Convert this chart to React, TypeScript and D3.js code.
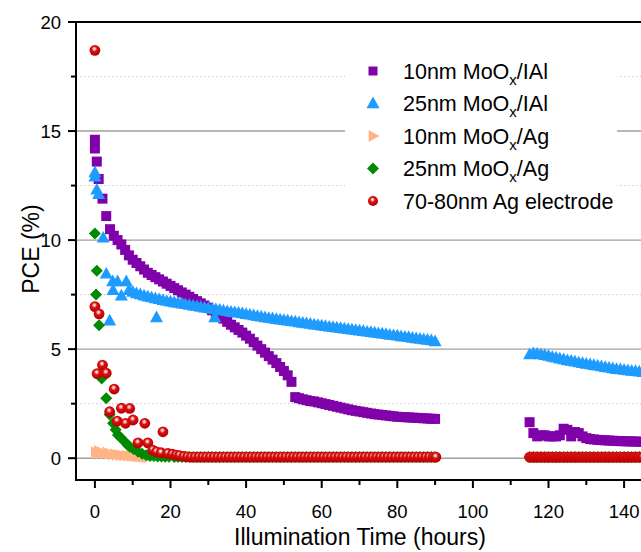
import React from 'react';
import * as d3 from 'd3';

// ---------- DATA (time in hours, PCE in %) ----------
const purpleSeries: [number, number][] = [
  [0, 14.6], [0, 14.2], [0.5, 13.6], [1, 12.8], [2, 11.9], [3, 11.1], [4, 10.5], [5, 10.2], [6, 10.0], [7, 9.8],
  [8, 9.55], [9, 9.3], [10, 9.1], [11, 8.95], [12, 8.8], [13, 8.65], [14, 8.5], [15, 8.4], [16, 8.3], [17, 8.2],
  [18, 8.1], [19, 8.0], [20, 7.9], [21, 7.8], [22, 7.7], [23, 7.6], [24, 7.5], [25, 7.4], [26, 7.3], [27, 7.2],
  [28, 7.1], [29, 7.0], [30, 6.9], [31, 6.78], [32, 6.65], [33, 6.52], [34, 6.4], [35, 6.25], [36, 6.12], [37, 6.0],
  [38, 5.88], [39, 5.76], [40, 5.62], [41, 5.48], [42, 5.32], [43, 5.16], [44, 5.0], [45, 4.84], [46, 4.68], [47, 4.52],
  [48, 4.36], [49, 4.18], [50, 4.0], [51, 3.8], [52, 3.5],
  [53, 2.8], [54, 2.75], [55, 2.7], [56, 2.66], [57, 2.62], [58, 2.6], [59, 2.56], [60, 2.52], [61, 2.48], [62, 2.44],
  [63, 2.4], [64, 2.36], [65, 2.32], [66, 2.28], [67, 2.24], [68, 2.2], [69, 2.17], [70, 2.14], [71, 2.11], [72, 2.08],
  [73, 2.05], [74, 2.02], [75, 2.0], [76, 1.98], [77, 1.96], [78, 1.94], [79, 1.92], [80, 1.9], [81, 1.89], [82, 1.88],
  [83, 1.87], [84, 1.86], [85, 1.85], [86, 1.84], [87, 1.83], [88, 1.82], [89, 1.81], [90, 1.8],
  [115, 1.65], [116, 1.15], [117, 1.0], [118, 1.05], [119, 1.05], [120, 1.0], [121, 1.0], [122, 1.0], [123, 1.05], [124, 1.35],
  [125, 1.3], [126, 1.0], [127, 1.2], [128, 1.15], [129, 1.0], [130, 0.92], [131, 0.88], [132, 0.86], [133, 0.84], [134, 0.83],
  [135, 0.82], [136, 0.81], [137, 0.8], [138, 0.79], [139, 0.78], [140, 0.78], [141, 0.77], [142, 0.77], [143, 0.76], [144, 0.76],
  [145, 0.75],
];

const blueSeries: [number, number][] = [
  [0, 13.1], [0, 12.9], [0.5, 12.3], [1, 12.1], [2.2, 10.1], [3, 8.45], [3.9, 6.3], [4.7, 8.1], [4.8, 7.7], [6, 8.1],
  [7, 7.45], [8.3, 8.1], [16.3, 6.45], [31.7, 6.45],
  [9, 7.7], [10, 7.62], [11, 7.55], [12, 7.5], [13, 7.45], [14, 7.4], [15, 7.36], [16, 7.32], [17, 7.28], [18, 7.24],
  [19, 7.2], [20, 7.17], [21, 7.14], [22, 7.11], [23, 7.08], [24, 7.05], [25, 7.02], [26, 6.99], [27, 6.96], [28, 6.93],
  [29, 6.9], [30, 6.87], [31, 6.84], [32, 6.82], [33, 6.79], [34, 6.76], [35, 6.73], [36, 6.7], [37, 6.68], [38, 6.66],
  [39, 6.63], [40, 6.6], [41, 6.57], [42, 6.54], [43, 6.51], [44, 6.48], [45, 6.45], [46, 6.42], [47, 6.4], [48, 6.37],
  [49, 6.35], [50, 6.32], [51, 6.3], [52, 6.27], [53, 6.25], [54, 6.22], [55, 6.2], [56, 6.17], [57, 6.15], [58, 6.12],
  [59, 6.1], [60, 6.07], [61, 6.05], [62, 6.02], [63, 6.0], [64, 5.98], [65, 5.96], [66, 5.93], [67, 5.91], [68, 5.89],
  [69, 5.86], [70, 5.84], [71, 5.82], [72, 5.79], [73, 5.77], [74, 5.75], [75, 5.72], [76, 5.7], [77, 5.68], [78, 5.65],
  [79, 5.63], [80, 5.61], [81, 5.58], [82, 5.56], [83, 5.54], [84, 5.51], [85, 5.49], [86, 5.46], [87, 5.44], [88, 5.42],
  [89, 5.39], [90, 5.35],
  [115, 4.75], [116, 4.8], [117, 4.78], [118, 4.75], [119, 4.72], [120, 4.68], [121, 4.64], [122, 4.6], [123, 4.56], [124, 4.52],
  [125, 4.48], [126, 4.45], [127, 4.42], [128, 4.38], [129, 4.35], [130, 4.32], [131, 4.29], [132, 4.26], [133, 4.23], [134, 4.2],
  [135, 4.17], [136, 4.14], [137, 4.11], [138, 4.08], [139, 4.06], [140, 4.04], [141, 4.02], [142, 4.0], [143, 3.98], [144, 3.96],
  [145, 3.94],
];

const orangeSeries: [number, number][] = [
  [0, 0.3], [0.4, 0.22], [0.8, 0.35], [1.2, 0.18], [1.6, 0.3], [2, 0.25], [2.5, 0.2], [3, 0.28], [3.5, 0.18], [4, 0.22],
  [4.5, 0.15], [5, 0.2], [5.5, 0.14], [6, 0.18], [6.5, 0.12], [7, 0.15], [7.5, 0.1], [8, 0.13], [8.5, 0.1], [9, 0.12],
  [9.5, 0.08], [10, 0.1], [10.5, 0.07], [11, 0.08], [11.5, 0.05], [12, 0.06], [12.5, 0.04], [13, 0.05], [13.5, 0.03], [14, 0.03],
];

const greenSeries: [number, number][] = [
  [0, 10.3], [0.5, 8.6], [0.3, 7.5], [1.1, 6.1], [1.8, 3.65], [3, 2.75], [3.9, 2.0], [4.8, 1.6], [5.5, 1.3], [6.1, 1.06],
  [6.8, 0.95], [7.9, 0.75], [8.6, 0.62], [9.2, 0.52], [10.2, 0.42], [11.4, 0.29], [12.5, 0.2], [13.6, 0.14], [14.6, 0.1], [15.6, 0.1],
  [16.6, 0.08], [17.6, 0.08], [18.6, 0.07], [19.6, 0.07], [21, 0.06], [22, 0.06], [23, 0.06], [24, 0.06], [25, 0.06], [26, 0.06],
  [27, 0.06], [28, 0.06], [29, 0.06], [30, 0.06], [31, 0.06], [32, 0.06], [33, 0.06], [34, 0.06], [35, 0.06], [36, 0.06],
  [37, 0.06], [38, 0.06], [39, 0.06], [40, 0.06], [41, 0.06], [42, 0.06], [43, 0.06], [44, 0.06], [45, 0.06], [46, 0.06],
  [47, 0.06], [48, 0.06], [49, 0.06], [50, 0.06], [51, 0.06], [52, 0.06], [53, 0.06], [54, 0.06], [55, 0.06], [56, 0.06],
  [57, 0.06], [58, 0.06], [59, 0.06], [60, 0.06], [61, 0.06], [62, 0.06], [63, 0.06], [64, 0.06], [65, 0.06], [66, 0.06],
  [67, 0.06], [68, 0.06], [69, 0.06], [70, 0.06], [71, 0.06], [72, 0.06], [73, 0.06], [74, 0.06], [75, 0.06], [76, 0.06],
  [77, 0.06], [78, 0.06], [79, 0.06], [80, 0.06], [81, 0.06], [82, 0.06], [83, 0.06], [84, 0.06], [85, 0.06], [86, 0.06],
  [87, 0.06], [88, 0.06], [89, 0.06], [90, 0.06],
  [115, 0.06], [116, 0.06], [117, 0.06], [118, 0.06], [119, 0.06], [120, 0.06], [121, 0.06], [122, 0.06], [123, 0.06], [124, 0.06],
  [125, 0.06], [126, 0.06], [127, 0.06], [128, 0.06], [129, 0.06], [130, 0.06], [131, 0.06], [132, 0.06], [133, 0.06], [134, 0.06],
  [135, 0.06], [136, 0.06], [137, 0.06], [138, 0.06], [139, 0.06], [140, 0.06], [141, 0.06], [142, 0.06], [143, 0.06], [144, 0.06],
  [145, 0.06],
];

const redSeries: [number, number][] = [
  [0, 18.7], [0, 6.95], [1.1, 6.62], [0.6, 3.88], [2, 4.27], [3, 3.9], [5.1, 3.17], [3.9, 2.13], [7, 2.29], [9.2, 2.28],
  [5.9, 1.7], [8.1, 1.6], [10.1, 1.75], [13.2, 1.6], [18, 1.21], [11.4, 0.7], [14, 0.7], [15.3, 0.37], [16.3, 0.29], [17.5, 0.25],
  [19.3, 0.22], [20.5, 0.18], [21.5, 0.14], [22.4, 0.12], [23.5, 0.08], [24.5, 0.06], [25.5, 0.05], [26.5, 0.05], [27.5, 0.05], [28.5, 0.05],
  [29.5, 0.05], [30.5, 0.05], [31.5, 0.05], [32.5, 0.05], [33.5, 0.05], [34.5, 0.05], [35.5, 0.05], [36.5, 0.05], [37.5, 0.05], [38.5, 0.05],
  [39.5, 0.05], [40.5, 0.05], [41.5, 0.05], [42.5, 0.05], [43.5, 0.05], [44.5, 0.05], [45.5, 0.05], [46.5, 0.05], [47.5, 0.05], [48.5, 0.05],
  [49.5, 0.05], [50.5, 0.05], [51.5, 0.05], [52.5, 0.05], [53.5, 0.05], [54.5, 0.05], [55.5, 0.05], [56.5, 0.05], [57.5, 0.05], [58.5, 0.05],
  [59.5, 0.05], [60.5, 0.05], [61.5, 0.05], [62.5, 0.05], [63.5, 0.05], [64.5, 0.05], [65.5, 0.05], [66.5, 0.05], [67.5, 0.05], [68.5, 0.05],
  [69.5, 0.05], [70.5, 0.05], [71.5, 0.05], [72.5, 0.05], [73.5, 0.05], [74.5, 0.05], [75.5, 0.05], [76.5, 0.05], [77.5, 0.05], [78.5, 0.05],
  [79.5, 0.05], [80.5, 0.05], [81.5, 0.05], [82.5, 0.05], [83.5, 0.05], [84.5, 0.05], [85.5, 0.05], [86.5, 0.05], [87.5, 0.05], [88.5, 0.05],
  [89.5, 0.05], [90.2, 0.05],
  [115, 0.05], [115.5, 0.05], [116, 0.05], [116.5, 0.05], [117, 0.05], [117.5, 0.05], [118, 0.05], [118.5, 0.05], [119, 0.05], [119.5, 0.05],
  [120, 0.05], [120.5, 0.05], [121, 0.05], [121.5, 0.05], [122, 0.05], [122.5, 0.05], [123, 0.05], [123.5, 0.05], [124, 0.05], [124.5, 0.05],
  [125, 0.05], [125.5, 0.05], [126, 0.05], [126.5, 0.05], [127, 0.05], [127.5, 0.05], [128, 0.05], [128.5, 0.05], [129, 0.05], [129.5, 0.05],
  [130, 0.05], [130.5, 0.05], [131, 0.05], [131.5, 0.05], [132, 0.05], [132.5, 0.05], [133, 0.05], [133.5, 0.05], [134, 0.05], [134.5, 0.05],
  [135, 0.05], [135.5, 0.05], [136, 0.05], [136.5, 0.05], [137, 0.05], [137.5, 0.05], [138, 0.05], [138.5, 0.05], [139, 0.05], [139.5, 0.05],
  [140, 0.05], [140.5, 0.05], [141, 0.05], [141.5, 0.05], [142, 0.05], [142.5, 0.05], [143, 0.05], [143.5, 0.05], [144, 0.05], [144.5, 0.05],
  [145, 0.05],
];

const xMajorTicks = [0, 20, 40, 60, 80, 100, 120, 140];
const xMinorTicks = [10, 30, 50, 70, 90, 110, 130];
const yMajorTicks = [0, 5, 10, 15, 20];
const yMinorTicks = [2.5, 7.5, 12.5, 17.5];

const legendLabels = [
  { pre: '10nm MoO', sub: 'x', post: '/IAl' },
  { pre: '25nm MoO', sub: 'x', post: '/IAl' },
  { pre: '10nm MoO', sub: 'x', post: '/Ag' },
  { pre: '25nm MoO', sub: 'x', post: '/Ag' },
  { pre: '70-80nm Ag electrode', sub: '', post: '' },
];

// ---------- LAYOUT ----------
const W = 641;
const H = 552;
const left = 76;
const top = 22;
const bottom = 480;
const right = 643;
const FONT = '"Liberation Sans", Arial, Helvetica, sans-serif';

const x = d3.scaleLinear().domain([-5, 145]).range([left, right]);
const y = d3.scaleLinear().domain([-1, 20]).range([bottom, top]);

const COLORS = {
  purple: '#8000AA',
  blue: '#1E9BFF',
  orange: '#FFB485',
  green: '#008A00',
  red: '#CC0000',
};

const squarePath = (s: number) => `M${-s / 2},${-s / 2}h${s}v${s}h${-s}Z`;
const triUpPath = (w: number) => {
  const h = w * 0.9;
  return `M0,${-h * 0.6}L${w / 2},${h * 0.4}L${-w / 2},${h * 0.4}Z`;
};
const triRightPath = (w: number) => {
  const h = w * 0.9;
  return `M${h * 0.6},0L${-h * 0.4},${w / 2}L${-h * 0.4},${-w / 2}Z`;
};
const diamondPath = (d: number) => `M0,${-d / 2}L${d / 2},0L0,${d / 2}L${-d / 2},0Z`;

type Kind = 'square' | 'tri' | 'triR' | 'diamond' | 'circle';

function Marker({ kind, cx, cy, legend }: { kind: Kind; cx: number; cy: number; legend?: boolean }) {
  const t = `translate(${cx},${cy})`;
  switch (kind) {
    case 'square':
      return <path transform={t} d={squarePath(legend ? 9 : 10)} fill={COLORS.purple} />;
    case 'tri':
      return <path transform={t} d={triUpPath(13)} fill={COLORS.blue} />;
    case 'triR':
      return <path transform={t} d={triRightPath(legend ? 12 : 11)} fill={COLORS.orange} />;
    case 'diamond':
      return <path transform={t} d={diamondPath(12)} fill={COLORS.green} />;
    default:
      return <circle cx={cx} cy={cy} r={legend ? 5 : 5.4} fill="url(#redBall)" />;
  }
}

const seriesList: { data: [number, number][]; kind: Kind }[] = [
  { data: purpleSeries, kind: 'square' },
  { data: blueSeries, kind: 'tri' },
  { data: orangeSeries, kind: 'triR' },
  { data: greenSeries, kind: 'diamond' },
  { data: redSeries, kind: 'circle' },
];

export default function App() {
  const legendX = 373;
  const legendTextX = 403;
  const legendY0 = 71;
  const legendStep = 32.5;

  return (
    <div style={{ position: 'absolute', left: 0, top: 0 }}>
      <svg width={W} height={H} viewBox={`0 0 ${W} ${H}`} style={{ display: 'block', background: '#fff' }}>
        <defs>
          <radialGradient id="redBall" cx="0.45" cy="0.4" r="0.6" fx="0.45" fy="0.35">
            <stop offset="0%" stopColor="#ffffff" />
            <stop offset="20%" stopColor="#f3a0a0" />
            <stop offset="42%" stopColor="#d81010" />
            <stop offset="100%" stopColor="#b40000" />
          </radialGradient>
          <clipPath id="plotClip">
            <rect x={left} y={top} width={W - left} height={bottom - top} />
          </clipPath>
        </defs>
        <rect x={0} y={0} width={W} height={H} fill="#fff" />

        {/* grid lines */}
        {yMinorTicks.map((v) => (
          <line key={'gm' + v} x1={left} x2={W} y1={y(v)} y2={y(v)} stroke="#c8c8c8" strokeWidth={1} strokeDasharray="1.5,2.5" />
        ))}
        {yMajorTicks.filter((v) => v < 20).map((v) => (
          <line key={'gM' + v} x1={left} x2={W} y1={y(v)} y2={y(v)} stroke="#a0a0a0" strokeWidth={1.4} />
        ))}

        {/* legend background */}
        <rect x={345} y={50} width={272} height={168} fill="#fff" />

        {/* data */}
        <g clipPath="url(#plotClip)">
          {seriesList.map((s, si) => (
            <g key={si}>
              {s.data.map((d, i) => (
                <Marker key={i} kind={s.kind} cx={x(d[0])} cy={y(d[1])} />
              ))}
            </g>
          ))}
        </g>

        {/* axes frame */}
        <line x1={left} x2={left} y1={top} y2={bottom} stroke="#000" strokeWidth={2} />
        <line x1={left - 1} x2={W} y1={bottom} y2={bottom} stroke="#000" strokeWidth={2} />
        <line x1={left - 1} x2={W} y1={top} y2={top} stroke="#000" strokeWidth={2} />

        {/* y ticks */}
        {yMajorTicks.map((v) => (
          <g key={'yt' + v}>
            <line x1={left - 8} x2={left} y1={y(v)} y2={y(v)} stroke="#000" strokeWidth={2} />
            <text x={left - 15} y={y(v) + 6.5} textAnchor="end" fontFamily={FONT} fontSize={18.5} fill="#000">
              {v}
            </text>
          </g>
        ))}
        {yMinorTicks.map((v) => (
          <line key={'ym' + v} x1={left - 5} x2={left} y1={y(v)} y2={y(v)} stroke="#000" strokeWidth={2} />
        ))}

        {/* x ticks */}
        {xMajorTicks.map((v) => (
          <g key={'xt' + v}>
            <line x1={x(v)} x2={x(v)} y1={bottom} y2={bottom + 8} stroke="#000" strokeWidth={2} />
            <text x={x(v)} y={bottom + 38} textAnchor="middle" fontFamily={FONT} fontSize={18.5} fill="#000">
              {v}
            </text>
          </g>
        ))}
        {xMinorTicks.map((v) => (
          <line key={'xm' + v} x1={x(v)} x2={x(v)} y1={bottom} y2={bottom + 5} stroke="#000" strokeWidth={2} />
        ))}

        {/* axis titles */}
        <text x={360} y={545} textAnchor="middle" fontFamily={FONT} fontSize={23} fill="#000">
          Illumination Time (hours)
        </text>
        <text transform="translate(39,249) rotate(-90)" textAnchor="middle" fontFamily={FONT} fontSize={23} fill="#000">
          PCE (%)
        </text>

        {/* legend */}
        {legendLabels.map((l, i) => {
          const cy = legendY0 + i * legendStep;
          return (
            <g key={'lg' + i}>
              <Marker kind={seriesList[i].kind} cx={legendX} cy={cy} legend />
              <text x={legendTextX} y={cy + 7.5} fontFamily={FONT} fontSize={21.5} fill="#000">
                {l.pre}
                {l.sub ? (
                  <>
                    <tspan dy={6} fontSize={15}>{l.sub}</tspan>
                    <tspan dy={-6}>{l.post}</tspan>
                  </>
                ) : null}
              </text>
            </g>
          );
        })}
      </svg>
    </div>
  );
}
